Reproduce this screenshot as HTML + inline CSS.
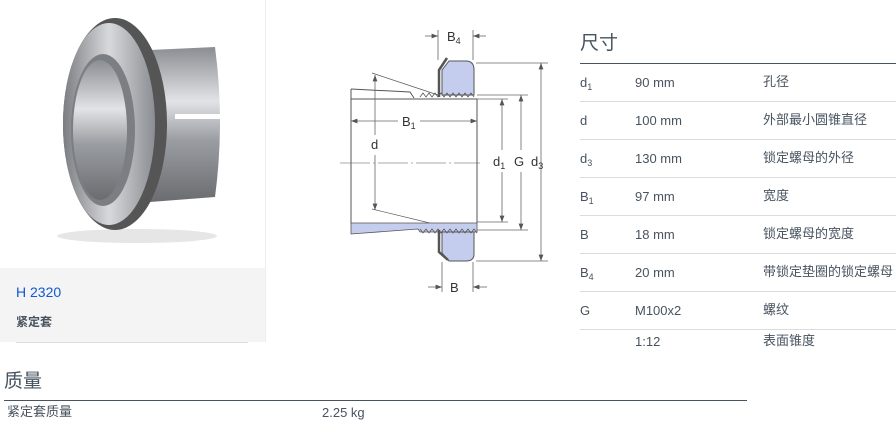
<!DOCTYPE html>
<html><head><meta charset="utf-8"><style>
body{margin:0;width:896px;height:434px;background:#fff;position:relative;overflow:hidden;font-family:"Liberation Sans","Noto Sans CJK SC",sans-serif;color:#485360}
.a{position:absolute;white-space:nowrap}
.t{font-size:13px;line-height:16px}
.c{font-size:13px;line-height:16px;margin-top:-1px}
.ln{position:absolute;height:1px;background:#dcdcdc}
sub{font-size:9px;vertical-align:-3px}
</style></head><body>
<div class="a" style="left:0;top:0;width:265px;height:268px;background:#fff"></div>
<div class="a" style="left:265px;top:0;width:1px;height:342px;background:#eee"></div>
<div class="a" style="left:0;top:268px;width:265px;height:74px;background:#f4f4f4"></div>
<svg class="a" style="left:55px;top:12px" width="180" height="235" viewBox="0 0 180 235">
<defs><linearGradient id="g" x1="0" y1="0" x2="0" y2="1"><stop offset="0" stop-color="#8a8d92"/><stop offset=".35" stop-color="#e2e3e6"/><stop offset=".6" stop-color="#9a9da2"/><stop offset="1" stop-color="#6a6c70"/></linearGradient>
<linearGradient id="h" x1="0" y1="0" x2="1" y2="0"><stop offset="0" stop-color="#7a7d82"/><stop offset=".5" stop-color="#d8d9dc"/><stop offset="1" stop-color="#8a8d92"/></linearGradient></defs>
<ellipse cx="82" cy="224" rx="80" ry="7" fill="#e6e6e6"/>
<path d="M95 38 L160 35 Q170 110 160 185 L95 190Z" fill="url(#g)"/>
<rect x="120" y="102" width="45" height="5" fill="#fff"/>
<ellipse cx="60" cy="112" rx="52" ry="106" fill="#555"/>
<ellipse cx="54" cy="112" rx="46" ry="101" fill="url(#h)"/>
<ellipse cx="48" cy="118" rx="32" ry="76" fill="#7b7e83"/>
<ellipse cx="45" cy="118" rx="27" ry="70" fill="url(#g)"/>
</svg>
<div class="a" style="left:16px;top:284px;font-size:14px;color:#0f58d6">H 2320</div>
<div class="a" style="left:16px;top:313px;font-size:12px;font-weight:bold;color:#485360">紧定套</div>
<div class="a" style="left:16px;top:342px;width:232px;height:1px;background:#ddd"></div>

<svg class="a" style="left:0;top:0" width="570" height="300" viewBox="0 0 570 300" font-family="Liberation Sans,sans-serif" font-size="13" fill="#333">
<defs><marker id="ar" viewBox="0 0 8 6" refX="8" refY="3" markerWidth="8" markerHeight="6" orient="auto-start-reverse"><path d="M0 0L8 3L0 6Z" fill="#555"/></marker></defs>
<g stroke="#555" stroke-width="1" fill="none">
<line x1="340" y1="163" x2="480" y2="163" stroke="#aaa" stroke-dasharray="30 3 2 3"/>
<path d="M351 89 L410 92 L414 98" />
<line x1="351" y1="99" x2="477" y2="99"/>
<line x1="351" y1="89" x2="351" y2="99"/>
<line x1="351" y1="99" x2="351" y2="223"/>
<line x1="477" y1="99" x2="477" y2="223"/>
<line x1="372" y1="73" x2="438" y2="95" stroke-width=".7"/>
<line x1="372" y1="209" x2="438" y2="225" stroke-width=".7"/>
</g>
<path d="M351 223 L477 223 L477 232 L420 232 L418 229 L351 234Z" fill="#c5cdee" stroke="#555" stroke-width=".8"/>
<path d="M442 95 L442 70 L449 61 L466 61 Q474 61 474 70 L474 95Z" fill="#c5cdee" stroke="#555"/>
<path d="M442 232 L474 232 L474 254 Q474 261 466 261 L449 261 L442 253Z" fill="#c5cdee" stroke="#555"/>
<path d="M439 97 L439 70 L447 58" stroke="#555" stroke-width="2.5" fill="none"/>
<path d="M439 230 L439 252 L448 260" stroke="#555" stroke-width="2.5" fill="none"/>
<path d="M420 97 l3 -4 3 4 3 -4 3 4 3 -4 3 4 3 -4 3 4 3 -4 3 4 3 -4 3 4 3 -4 3 4 3 -4 3 4 3 -4 3 4" stroke="#555" fill="none" stroke-width=".8"/>
<path d="M420 229 l3 4 3 -4 3 4 3 -4 3 4 3 -4 3 4 3 -4 3 4 3 -4 3 4 3 -4 3 4 3 -4 3 4 3 -4 3 4 3 -4 3 4" stroke="#555" fill="none" stroke-width=".8"/>
<g stroke="#666" stroke-width=".8">
<line x1="438" y1="30" x2="438" y2="60"/><line x1="473" y1="30" x2="473" y2="60"/>
<line x1="425" y1="36" x2="438" y2="36" marker-end="url(#ar)"/><line x1="486" y1="36" x2="473" y2="36" marker-end="url(#ar)"/>
<line x1="442" y1="262" x2="442" y2="292"/><line x1="473" y1="262" x2="473" y2="292"/>
<line x1="428" y1="287" x2="442" y2="287" marker-end="url(#ar)"/><line x1="487" y1="287" x2="473" y2="287" marker-end="url(#ar)"/>
<line x1="476" y1="63" x2="548" y2="63"/><line x1="476" y1="261" x2="548" y2="261"/>
<line x1="477" y1="95" x2="528" y2="95"/><line x1="477" y1="230" x2="528" y2="230"/>
<line x1="477" y1="99" x2="508" y2="99"/><line x1="477" y1="222" x2="508" y2="222"/>
<line x1="541" y1="63" x2="541" y2="261" marker-start="url(#ar)" marker-end="url(#ar)"/>
<line x1="521" y1="150" x2="521" y2="95" marker-end="url(#ar)"/><line x1="521" y1="172" x2="521" y2="230" marker-end="url(#ar)"/>
<line x1="502" y1="150" x2="502" y2="99" marker-end="url(#ar)"/><line x1="502" y1="172" x2="502" y2="222" marker-end="url(#ar)"/>
<line x1="375" y1="135" x2="375" y2="75" marker-end="url(#ar)"/><line x1="375" y1="155" x2="375" y2="210" marker-end="url(#ar)"/>
<line x1="398" y1="121" x2="351" y2="121" marker-end="url(#ar)"/><line x1="420" y1="121" x2="477" y2="121" marker-end="url(#ar)"/>
</g>
<text x="447" y="41">B<tspan font-size="9" dy="3">4</tspan></text>
<text x="450" y="292">B</text>
<text x="402" y="126">B<tspan font-size="9" dy="3">1</tspan></text>
<text x="371" y="149">d</text>
<text x="493" y="166">d<tspan font-size="9" dy="3">1</tspan></text>
<text x="514" y="166">G</text>
<text x="531" y="166">d<tspan font-size="9" dy="3">3</tspan></text>
</svg>

<div class="a" style="left:580px;top:28px;font-size:19px;color:#485360">尺寸</div>
<div class="a" style="left:580px;top:63px;width:316px;height:1px;background:#485360"></div>
<div class="ln" style="left:580px;top:101px;width:316px"></div>
<div class="ln" style="left:580px;top:139px;width:316px"></div>
<div class="ln" style="left:580px;top:177px;width:316px"></div>
<div class="ln" style="left:580px;top:215px;width:316px"></div>
<div class="ln" style="left:580px;top:253px;width:316px"></div>
<div class="ln" style="left:580px;top:291px;width:316px"></div>
<div class="ln" style="left:580px;top:329px;width:316px"></div>
<div class="a t" style="left:580px;top:75px">d<sub>1</sub></div><div class="a t" style="left:635px;top:75px">90 mm</div><div class="a c" style="left:763px;top:75px">孔径</div>
<div class="a t" style="left:580px;top:113px">d</div><div class="a t" style="left:635px;top:113px">100 mm</div><div class="a c" style="left:763px;top:113px">外部最小圆锥直径</div>
<div class="a t" style="left:580px;top:151px">d<sub>3</sub></div><div class="a t" style="left:635px;top:151px">130 mm</div><div class="a c" style="left:763px;top:151px">锁定螺母的外径</div>
<div class="a t" style="left:580px;top:189px">B<sub>1</sub></div><div class="a t" style="left:635px;top:189px">97 mm</div><div class="a c" style="left:763px;top:189px">宽度</div>
<div class="a t" style="left:580px;top:227px">B</div><div class="a t" style="left:635px;top:227px">18 mm</div><div class="a c" style="left:763px;top:227px">锁定螺母的宽度</div>
<div class="a t" style="left:580px;top:265px">B<sub>4</sub></div><div class="a t" style="left:635px;top:265px">20 mm</div><div class="a c" style="left:763px;top:265px">带锁定垫圈的锁定螺母</div>
<div class="a t" style="left:580px;top:303px">G</div><div class="a t" style="left:635px;top:303px">M100x2</div><div class="a c" style="left:763px;top:303px">螺纹</div>
<div class="a t" style="left:635px;top:334px">1:12</div><div class="a c" style="left:763px;top:334px">表面锥度</div>

<div class="a" style="left:4px;top:366px;font-size:19px">质量</div>
<div class="a" style="left:4px;top:400px;width:743px;height:1px;background:#485360"></div>
<div class="a c" style="left:7px;top:405px">紧定套质量</div>
<div class="a t" style="left:322px;top:405px">2.25 kg</div>
</body></html>
